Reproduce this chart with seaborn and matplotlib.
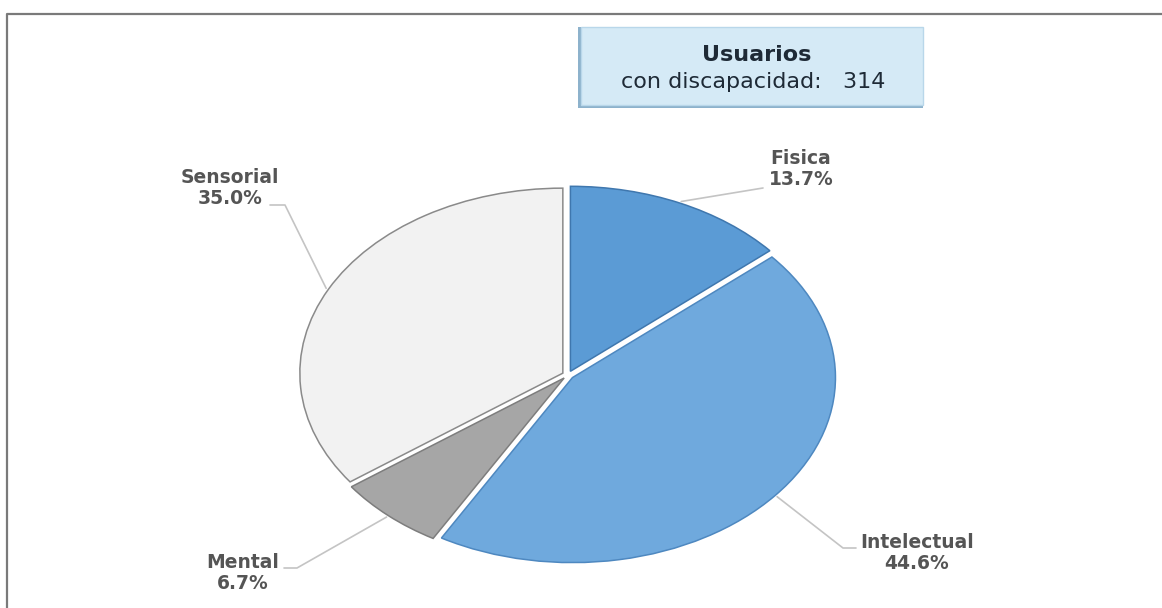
import matplotlib
matplotlib.use("Agg")
import numpy as np
import matplotlib.pyplot as plt
from matplotlib.patches import Rectangle
from matplotlib.lines import Line2D
import seaborn as sns

# Data: disability type of service users
categories = ["Fisica", "Intelectual", "Mental", "Sensorial"]
shares = [13.7, 44.6, 6.7, 35.0]
total_users = 314
box_title = "Usuarios"
box_caption = "con discapacidad:"

sns.set_theme(style="white")
plt.rcParams["font.family"] = ["DejaVu Sans"]

fill_colors = sns.color_palette(["#5B9BD5", "#6FA9DD", "#A6A6A6", "#F2F2F2"])
edge_colors = ["#3F77AE", "#4E88C0", "#7D7D7D", "#8A8A8A"]

W, H = 1162, 608
fig = plt.figure(figsize=(W / 100, H / 100), dpi=100)
fig.patch.set_facecolor("white")
ax = fig.add_axes([0, 0, 1, 1])

# pie centre and radii in pixels (x from left, y from bottom); the pie is drawn as an ellipse
cx, cy, rx, ry = 568, 233, 263, 185
explode = 0.022

wedges, _ = ax.pie(
    shares,
    colors=fill_colors,
    startangle=90,
    counterclock=False,
    explode=[explode] * len(shares),
    wedgeprops=dict(linewidth=1.1),
)
for w, ec in zip(wedges, edge_colors):
    w.set_edgecolor(ec)

ax.set_xlim(-cx / rx, (W - cx) / rx)
ax.set_ylim(-cy / ry, (H - cy) / ry)
ax.set_aspect("auto")
ax.axis("off")


def px(x, y_top):
    """Pixel position (from the top-left) to data coordinates."""
    return (x - cx) / rx, (H - y_top - cy) / ry


# label placement: text centre and leader-line bend points, in pixels
label_layout = {
    "Fisica": dict(text=(801, 169), path=[(763, 188)]),
    "Intelectual": dict(text=(917, 553), path=[(843, 548), (856, 548)]),
    "Mental": dict(text=(243, 573), path=[(297, 568), (284, 568)]),
    "Sensorial": dict(text=(230, 188), path=[(285, 205), (270, 205)]),
}

for w, name, share in zip(wedges, categories, shares):
    mid = np.deg2rad((w.theta1 + w.theta2) / 2)
    r = 1 + explode + 0.01
    pts = [(r * np.cos(mid), r * np.sin(mid))]
    pts += [px(*p) for p in label_layout[name]["path"]]
    xs, ys = zip(*pts)
    ax.plot(xs, ys, color="#C4C4C4", lw=1.2, clip_on=False, zorder=1)
    tx, ty = px(*label_layout[name]["text"])
    ax.text(tx, ty, f"{name}\n{share:.1f}%", ha="center", va="center",
            fontsize=13.5, fontweight="bold", color="#555555",
            linespacing=1.15)

# outer frame (left and top rules)
frame_x = [7 / W, 7 / W, 1.0]
frame_y = [0.0, 1 - 14 / H, 1 - 14 / H]
fig.add_artist(Line2D(frame_x, frame_y, transform=fig.transFigure,
                      color="#7A7A7A", lw=1.6))

# summary box with a soft shadow on its left and bottom
bx0, bx1, by_top, by_bot = 581, 923, 27, 105
fig.add_artist(Rectangle(((bx0 - 3) / W, 1 - (by_bot + 3) / H),
                         (bx1 - bx0 + 3) / W, (by_bot - by_top + 3) / H,
                         transform=fig.transFigure, facecolor="#8DB2CC",
                         edgecolor="none"))
fig.add_artist(Rectangle((bx0 / W, 1 - by_bot / H),
                         (bx1 - bx0) / W, (by_bot - by_top) / H,
                         transform=fig.transFigure, facecolor="#D5EAF6",
                         edgecolor="#B9D7EA", lw=1))
fig.text(757 / W, 1 - 55 / H, box_title, ha="center", va="center",
         fontsize=16, fontweight="bold", color="#1E2A36")
fig.text(753 / W, 1 - 82 / H, f"{box_caption}   {total_users}", ha="center",
         va="center", fontsize=16, color="#1E2A36")

fig.savefig("out.png", dpi=100, facecolor="white")
